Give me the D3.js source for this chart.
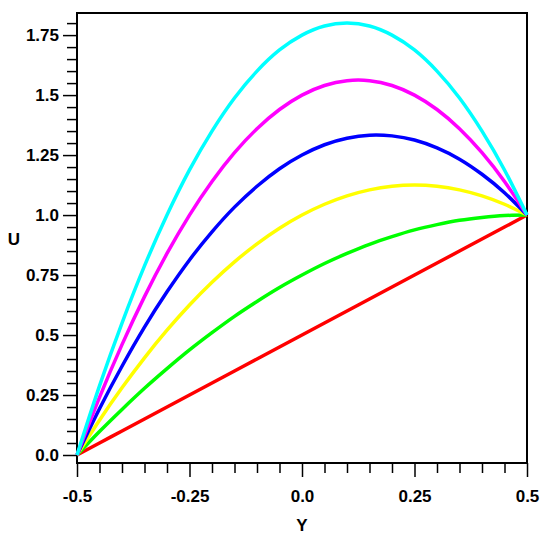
<!DOCTYPE html>
<html lang="en">
<head>
<meta charset="utf-8">
<title>U vs Y</title>
<script src="https://d3js.org/d3.v7.min.js"></script>
<style>
  body { margin: 0; background: #fff; }
  text { font-family: "Liberation Sans", Arial, sans-serif; font-weight: bold; }
</style>
</head>
<body>
<script>
// Y positions across the channel
var yPos = [-0.5, -0.45, -0.4, -0.35, -0.3, -0.25, -0.2, -0.15, -0.1, -0.05, 0,
            0.05, 0.1, 0.15, 0.2, 0.25, 0.3, 0.35, 0.4, 0.45, 0.5];

// U values
var uRed     = [0, 0.05, 0.1, 0.15, 0.2, 0.25, 0.3, 0.35, 0.4, 0.45, 0.5,
                0.55, 0.6, 0.65, 0.7, 0.75, 0.8, 0.85, 0.9, 0.95, 1.0];
var uGreen   = [0, 0.098, 0.19, 0.278, 0.36, 0.438, 0.51, 0.578, 0.64, 0.698, 0.75,
                0.798, 0.84, 0.878, 0.91, 0.938, 0.96, 0.978, 0.99, 0.998, 1.0];
var uYellow  = [0, 0.145, 0.28, 0.405, 0.52, 0.625, 0.72, 0.805, 0.88, 0.945, 1.0,
                1.045, 1.08, 1.105, 1.12, 1.125, 1.12, 1.105, 1.08, 1.045, 1.0];
var uBlue    = [0, 0.193, 0.37, 0.533, 0.68, 0.813, 0.93, 1.033, 1.12, 1.193, 1.25,
                1.293, 1.32, 1.333, 1.33, 1.313, 1.28, 1.233, 1.17, 1.093, 1.0];
var uMagenta = [0, 0.24, 0.46, 0.66, 0.84, 1.0, 1.14, 1.26, 1.36, 1.44, 1.5,
                1.54, 1.56, 1.56, 1.54, 1.5, 1.44, 1.36, 1.26, 1.14, 1.0];
var uCyan    = [0, 0.288, 0.55, 0.788, 1.0, 1.188, 1.35, 1.488, 1.6, 1.688, 1.75,
                1.788, 1.8, 1.788, 1.75, 1.688, 1.6, 1.488, 1.35, 1.188, 1.0];

var seriesColors = ["#ff0000", "#00ff00", "#ffff00", "#0000ff", "#ff00ff", "#00ffff"];

// tick labels
var xTicks = [-0.5, -0.25, 0, 0.25, 0.5];
var xTickLabels = ["-0.5", "-0.25", "0.0", "0.25", "0.5"];
var yTicks = [0, 0.25, 0.5, 0.75, 1.0, 1.25, 1.5, 1.75];
var yTickLabels = ["0.0", "0.25", "0.5", "0.75", "1.0", "1.25", "1.5", "1.75"];

var w = 550, h = 548;
var padLeft = 77, padRight = 527, padTop = 13, padBottom = 463;

var xScale = d3.scaleLinear().domain([-0.5, 0.5]).range([padLeft, padRight]);
var yScale = d3.scaleLinear().domain([-1 / 30, 1.8421]).range([padBottom, padTop]);

var svg = d3.select("body").append("svg")
  .attr("width", w)
  .attr("height", h);

var xMinor = d3.range(-0.5, 0.5001, 0.05).filter(function (v) {
  return xTicks.every(function (t) { return Math.abs(t - v) > 1e-6; });
});
var yMinor = d3.range(0, 1.8101, 0.05).filter(function (v) {
  return yTicks.every(function (t) { return Math.abs(t - v) > 1e-6; });
});

// minor ticks
svg.append("g")
  .attr("transform", "translate(0," + padBottom + ")")
  .call(d3.axisBottom(xScale).tickValues(xMinor).tickSize(10).tickFormat(""))
  .call(function (g) { g.select(".domain").remove(); });
svg.append("g")
  .attr("transform", "translate(" + padLeft + ",0)")
  .call(d3.axisLeft(yScale).tickValues(yMinor).tickSize(10).tickFormat(""))
  .call(function (g) { g.select(".domain").remove(); });

// major ticks
svg.append("g")
  .attr("class", "xaxis")
  .attr("transform", "translate(0," + padBottom + ")")
  .call(d3.axisBottom(xScale).tickValues(xTicks).tickSize(14).tickPadding(13)
    .tickFormat(function (d, i) { return xTickLabels[i]; }))
  .call(function (g) { g.select(".domain").remove(); });
svg.append("g")
  .attr("class", "yaxis")
  .attr("transform", "translate(" + padLeft + ",0)")
  .call(d3.axisLeft(yScale).tickValues(yTicks).tickSize(14).tickPadding(4)
    .tickFormat(function (d, i) { return yTickLabels[i]; }))
  .call(function (g) { g.select(".domain").remove(); });

svg.selectAll(".tick line").attr("stroke", "#000").attr("stroke-width", 1.5);
svg.selectAll(".tick text")
  .attr("fill", "#000")
  .style("font-size", "17px")
  .style("font-weight", "bold");

// frame
svg.append("rect")
  .attr("x", padLeft)
  .attr("y", padTop)
  .attr("width", padRight - padLeft)
  .attr("height", padBottom - padTop)
  .attr("fill", "none")
  .attr("stroke", "#000")
  .attr("stroke-width", 2);

// curves
var allSeries = [uRed, uGreen, uYellow, uBlue, uMagenta, uCyan];
var line = d3.line()
  .x(function (d, i) { return xScale(yPos[i]); })
  .y(function (d) { return yScale(d); })
  .curve(d3.curveNatural);

svg.append("g")
  .selectAll("path")
  .data(allSeries)
  .enter()
  .append("path")
  .attr("d", line)
  .attr("fill", "none")
  .attr("stroke", function (d, i) { return seriesColors[i]; })
  .attr("stroke-width", 3.5);

// axis titles
svg.append("text")
  .attr("x", 302)
  .attr("y", 531)
  .attr("text-anchor", "middle")
  .style("font-size", "17px")
  .text("Y");
svg.append("text")
  .attr("x", 14)
  .attr("y", 245)
  .attr("text-anchor", "middle")
  .style("font-size", "17px")
  .text("U");
</script>
</body>
</html>
